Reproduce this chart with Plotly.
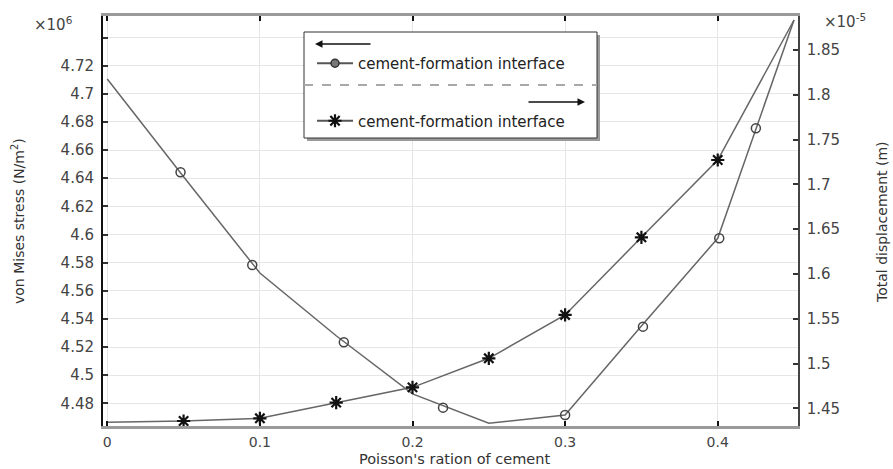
import plotly.graph_objects as go

# ---- data ----
poisson = [0, 0.05, 0.1, 0.15, 0.2, 0.25, 0.3, 0.35, 0.4, 0.45]
stress_e6 = [4.7105, 4.641, 4.5726, 4.528, 4.4867, 4.4658, 4.4717, 4.535, 4.5973, 4.7525]   # von Mises, x10^6 N/m^2
disp_e5 = [1.4344, 1.4358, 1.4388, 1.4563, 1.4734, 1.5058, 1.5542, 1.6409, 1.7272, 1.8835]   # total displacement, x10^-5 m
# circle markers are placed along the stress curve (not at every data point)
stress_marker_x = [0.048, 0.095, 0.155, 0.220, 0.300, 0.351, 0.401, 0.425]
stress_marker_y = [4.6442, 4.5783, 4.5234, 4.4769, 4.4717, 4.5345, 4.5973, 4.6755]

x_ticks = [0, 0.1, 0.2, 0.3, 0.4]
x_tick_labels = ["0", "0.1", "0.2", "0.3", "0.4"]
left_ticks = [4.48, 4.5, 4.52, 4.54, 4.56, 4.58, 4.6, 4.62, 4.64, 4.66, 4.68, 4.7, 4.72, 4.74]
left_tick_labels = ["4.48", "4.5", "4.52", "4.54", "4.56", "4.58", "4.6", "4.62", "4.64", "4.66",
                    "4.68", "4.7", "4.72", ""]
right_ticks = [1.45, 1.5, 1.55, 1.6, 1.65, 1.7, 1.75, 1.8, 1.85]
right_tick_labels = ["1.45", "1.5", "1.55", "1.6", "1.65", "1.7", "1.75", "1.8", "1.85"]
series_name = "cement-formation interface"

W, H = 893, 469
L, R, T, B = 103, 95, 16, 43
PW, PH = W - L - R, H - T - B


def px(xp):
    return (xp - L) / PW


def py(yp):
    return (H - B - yp) / PH


FONT = "DejaVu Sans"
LINE = "#666666"
STAR = dict(symbol="asterisk", size=11, color="#111", line=dict(width=2.2, color="#111"))

fig = go.Figure()

# stress curve (left axis)
fig.add_trace(go.Scatter(x=poisson, y=stress_e6, mode="lines", line=dict(color=LINE, width=1.5),
                         showlegend=False, yaxis="y"))
fig.add_trace(go.Scatter(x=stress_marker_x, y=stress_marker_y, mode="markers",
                         marker=dict(symbol="circle-open", size=9, color="#444", line=dict(width=1.5, color="#444")),
                         showlegend=False, yaxis="y"))
# displacement curve (right axis); stars on the interior data points
fig.add_trace(go.Scatter(x=poisson, y=disp_e5, mode="lines", line=dict(color=LINE, width=1.5),
                         showlegend=False, yaxis="y2"))
fig.add_trace(go.Scatter(x=poisson[1:-1], y=disp_e5[1:-1], mode="markers", marker=STAR,
                         showlegend=False, yaxis="y2"))

# legend-only entries
fig.add_trace(go.Scatter(x=[None], y=[None], mode="lines+markers", name=series_name, legendgroup="a",
                         line=dict(color="#555", width=2),
                         marker=dict(symbol="circle", size=8, color="#777", line=dict(width=1.5, color="#333")),
                         yaxis="y"))
fig.add_trace(go.Scatter(x=[None], y=[None], mode="lines+markers", name=series_name, legendgroup="b",
                         line=dict(color="#555", width=2), marker=STAR, yaxis="y2"))

shapes = [
    # legend shadow and box
    dict(type="rect", xref="paper", yref="paper", x0=px(307), x1=px(600), y0=py(141), y1=py(35),
         fillcolor="#9a9a9a", line=dict(width=0), layer="above"),
    dict(type="rect", xref="paper", yref="paper", x0=px(304), x1=px(597), y0=py(138), y1=py(32),
         fillcolor="white", line=dict(color="#333", width=1), layer="above"),
    dict(type="line", xref="paper", yref="paper", x0=px(304), x1=px(597), y0=py(85), y1=py(85),
         line=dict(color="#a8a8a8", width=2, dash="dash"), layer="above"),
]

C = dict(xanchor="center", yanchor="middle", showarrow=False)
annotations = [
    dict(xref="paper", yref="paper", x=px(315), y=py(44), ax=57, ay=0, text="", showarrow=True,
         arrowhead=2, arrowsize=1, arrowwidth=1.5, arrowcolor="#111"),
    dict(xref="paper", yref="paper", x=px(585), y=py(102), ax=-58, ay=0, text="", showarrow=True,
         arrowhead=2, arrowsize=1, arrowwidth=1.5, arrowcolor="#111"),
    dict(xref="paper", yref="paper", x=px(53), y=py(24), text="×10<sup>6</sup>",
         font=dict(family=FONT, size=15, color="#444"), **C),
    dict(xref="paper", yref="paper", x=px(845), y=py(21), text="×10<sup>-5</sup>",
         font=dict(family=FONT, size=15, color="#444"), **C),
    dict(xref="paper", yref="paper", x=px(18), y=py(221), text="von Mises stress (N/m<sup>2</sup>)",
         textangle=-90, font=dict(family=FONT, size=14, color="#333"), **C),
    dict(xref="paper", yref="paper", x=px(882), y=py(222), text="Total displacement (m)",
         textangle=-90, font=dict(family=FONT, size=14, color="#333"), **C),
    dict(xref="paper", yref="paper", x=px(454), y=py(468.5), text="Poisson's ration of cement",
         font=dict(family=FONT, size=14.5, color="#333"), xanchor="center", yanchor="bottom",
         showarrow=False),
]

fig.update_layout(
    width=W, height=H,
    margin=dict(l=L, r=R, t=T, b=B, pad=0),
    paper_bgcolor="white", plot_bgcolor="white",
    font=dict(family=FONT, size=15, color="#333"),
    xaxis=dict(range=[-0.0028, 0.4526], tickvals=x_ticks, ticktext=x_tick_labels,
               showgrid=True, gridcolor="#e6e6e6", gridwidth=1, zeroline=False,
               showline=True, linecolor="#9a9a9a", linewidth=3, mirror="ticks",
               ticks="inside", ticklen=5, tickcolor="#111", tickwidth=1.5,
               ticklabelstandoff=1, tickfont=dict(family=FONT, size=14, color="#444")),
    yaxis=dict(range=[4.46386, 4.75533], tickvals=left_ticks, ticktext=left_tick_labels,
               showgrid=True, gridcolor="#e6e6e6", gridwidth=1, zeroline=False,
               showline=True, linecolor="#111", linewidth=2,
               ticks="inside", ticklen=5, tickcolor="#333", tickwidth=1.5,
               ticklabelstandoff=4, tickfont=dict(family=FONT, size=15, color="#444")),
    yaxis2=dict(range=[1.43024, 1.88796], tickvals=right_ticks, ticktext=right_tick_labels,
                overlaying="y", side="right", showgrid=False, zeroline=False,
                showline=True, linecolor="#444", linewidth=1.5,
                ticks="inside", ticklen=5, tickcolor="#333", tickwidth=1.5,
                ticklabelstandoff=4, tickfont=dict(family=FONT, size=15, color="#444")),
    legend=dict(x=px(312), y=py(47), xanchor="left", yanchor="top",
                bgcolor="rgba(0,0,0,0)", borderwidth=0, tracegroupgap=35,
                itemwidth=36, font=dict(family=FONT, size=15, color="#222")),
    shapes=shapes,
    annotations=annotations,
)

fig.write_html("out.html")
